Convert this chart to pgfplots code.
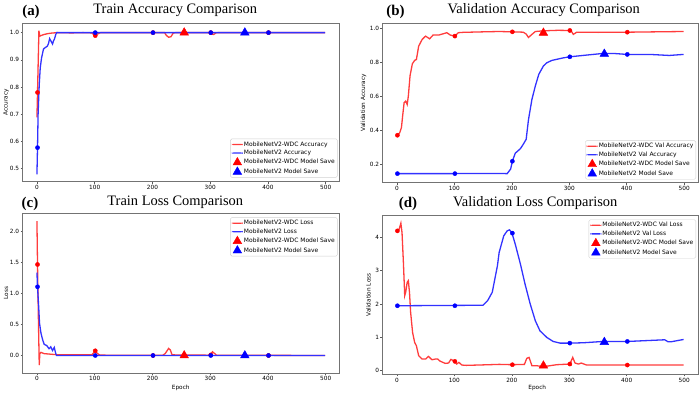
\documentclass[border=0pt]{standalone}
\usepackage{fontspec}
\setmainfont{Liberation Serif}
\newfontfamily\dv{DejaVu Sans}
\usepackage{pgfplots}
\pgfplotsset{compat=1.18}
\definecolor{wdcl}{RGB}{255,60,60}
\definecolor{netl}{RGB}{50,50,255}
\pgfplotsset{
  base/.style={scale only axis, anchor=south west,
    xmin=-25, xmax=524, xtick={0,100,200,300,400,500},
    axis line style={black!55,line width=0.6bp},
    tick style={black!65,line width=0.5bp},
    tick align=outside, major tick length=2bp,
    xtick pos=bottom, ytick pos=left,
    ticklabel style={font=\dv\fontsize{5.8}{7}\selectfont},
    xticklabel style={inner sep=1.5bp},
    yticklabel style={inner sep=1.2bp},
    /pgf/number format/assume math mode=true,
    label style={font=\dv\fontsize{5.8}{7}\selectfont},
    legend cell align=left,
    legend style={font=\dv\fontsize{6}{7}\selectfont, draw=black!18,
      rounded corners=1.5bp, fill=white,
      inner sep=1.5bp, row sep=0.3bp, nodes={inner sep=1.1bp}},
  },
  wdc/.style={color=wdcl, line width=1.3bp, no markers,
    legend image code/.code={\path[fill=wdcl, draw=none] (0bp,-0.65bp) rectangle (11bp,0.65bp);}},
  net/.style={color=netl, line width=1.3bp, no markers,
    legend image code/.code={\path[fill=netl, draw=none] (0bp,-0.65bp) rectangle (11bp,0.65bp);}},
  wdcm/.style={only marks, mark=*, mark size=2.1bp, color=red, forget plot},
  netm/.style={only marks, mark=*, mark size=2.1bp, color=blue, forget plot},
  wdcs/.style={only marks, mark=triangle*, mark size=5bp, color=red,
    legend image code/.code={\path[##1] plot coordinates {(5.5bp,0bp)};}},
  nets/.style={only marks, mark=triangle*, mark size=5bp, color=blue,
    legend image code/.code={\path[##1] plot coordinates {(5.5bp,0bp)};}},
}
\begin{document}
\begin{tikzpicture}[x=1bp,y=1bp]
\path (0,0) rectangle (700,389);
% ---------- (a) ----------
\begin{axis}[base, at={(21.5bp,210bp)}, width=317.5bp, height=159bp,
  ymin=0.452, ymax=1.036, ytick={0.5,0.6,0.7,0.8,0.9,1.0},
  yticklabel style={/pgf/number format/.cd, fixed, fixed zerofill, precision=1},
  ylabel={Accuracy}, ylabel style={at={(axis description cs:-0.052,0.5)}, anchor=center},
  legend style={at={(0.994,0.025)}, anchor=south east}]
\addplot[wdc] coordinates {(0,0.688) (1,0.78) (3.4,1.007) (5,0.987) (8,0.99) (12,0.993) (18,0.996) (24,0.998) (35,1.0) (60,0.999) (80,1.0) (95,0.999) (98,0.993) (101,0.989) (104,0.994) (110,1.0) (221,1.0) (224,0.99) (228,0.983) (232,0.985) (236,0.998) (240,1.0) (300,1.0) (303,0.995) (306,0.993) (310,0.999) (313,1.0) (499,1.0)};
\addlegendentry{MobileNetV2-WDC Accuracy}
\addplot[net] coordinates {(0,0.479) (1,0.577) (2,0.7) (4,0.81) (5.7,0.87) (8,0.907) (11.4,0.94) (15,0.946) (18,0.95) (20,0.96) (22,0.978) (25,0.966) (27,0.958) (29,0.972) (30,0.974) (32.6,0.993) (34,1.0) (499,1.0)};
\addlegendentry{MobileNetV2 Accuracy}
\addplot[wdcm] coordinates {(1,0.78) (101,0.989) (201,1.0) (301,1.0) (401,1.0)};
\addplot[netm] coordinates {(1,0.577) (101,1.0) (201,1.0) (301,1.0) (401,1.0)};
\addplot[wdcs] coordinates {(255,1.0)};
\addlegendentry{MobileNetV2-WDC Model Save}
\addplot[nets] coordinates {(360,1.0)};
\addlegendentry{MobileNetV2 Model Save}
\end{axis}
% ---------- (b) ----------
\begin{axis}[base, at={(382bp,209bp)}, width=316bp, height=160bp,
  ymin=0.09, ymax=1.031, ytick={0.2,0.4,0.6,0.8,1.0},
  yticklabel style={/pgf/number format/.cd, fixed, fixed zerofill, precision=1},
  ylabel={Validation Accuracy}, ylabel style={at={(axis description cs:-0.06,0.5)}, anchor=center},
  legend style={at={(0.994,0.02)}, anchor=south east}]
\addplot[wdc] coordinates {(0,0.369) (1,0.369) (5,0.384) (8,0.414) (10,0.48) (12.6,0.56) (15.4,0.57) (18,0.55) (20,0.6) (23,0.72) (27,0.79) (31,0.81) (34,0.815) (38,0.894) (44,0.933) (50,0.953) (57,0.937) (63,0.959) (73,0.959) (81,0.967) (87,0.973) (93,0.959) (101,0.953) (107,0.973) (115,0.975) (150,0.978) (178,0.98) (201,0.978) (220,0.976) (225,0.965) (229,0.945) (235,0.963) (241,0.98) (255,0.984) (280,0.987) (301,0.986) (304,0.98) (307,0.963) (313,0.976) (324,0.976) (350,0.975) (402,0.976) (450,0.978) (499,0.98)};
\addlegendentry{MobileNetV2-WDC Val Accuracy}
\addplot[net] coordinates {(0,0.143) (100,0.143) (150,0.144) (192,0.143) (198,0.17) (201,0.216) (206,0.263) (215,0.29) (220,0.316) (225,0.345) (229,0.46) (235,0.58) (241,0.66) (247,0.728) (255,0.777) (261,0.796) (270,0.81) (278,0.816) (290,0.825) (301,0.831) (324,0.839) (359,0.851) (380,0.85) (401,0.845) (440,0.845) (474,0.839) (499,0.845)};
\addlegendentry{MobileNetV2 Val Accuracy}
\addplot[wdcm] coordinates {(1,0.369) (101,0.953) (201,0.978) (301,0.986) (401,0.976)};
\addplot[netm] coordinates {(1,0.143) (101,0.143) (201,0.216) (301,0.831) (401,0.845)};
\addplot[wdcs] coordinates {(255,0.972)};
\addlegendentry{MobileNetV2-WDC Model Save}
\addplot[nets] coordinates {(361,0.848)};
\addlegendentry{MobileNetV2 Model Save}
\end{axis}
% ---------- (c) ----------
\begin{axis}[base, at={(21.5bp,18.5bp)}, width=317.5bp, height=160bp,
  ymin=-0.28, ymax=2.3, ytick={0,0.5,1.0,1.5,2.0},
  yticklabel style={/pgf/number format/.cd, fixed, fixed zerofill, precision=1},
  ylabel={Loss}, ylabel style={at={(axis description cs:-0.052,0.5)}, anchor=center},
  legend style={at={(0.994,0.973)}, anchor=north east}]
\addplot[wdc] coordinates {(0,2.17) (1,1.47) (2.5,0.6) (4,-0.157) (5,0.03) (7,0.05) (12.6,0.03) (30,0.016) (40,0.01) (95,0.01) (98,0.04) (101,0.076) (104,0.04) (108,0.01) (120,0.005) (218,0.005) (222,0.03) (228,0.114) (231,0.09) (234,0.01) (300,0.005) (304,0.06) (308,0.03) (311,0.005) (499,0.0)};
\addlegendentry{MobileNetV2-WDC Loss}
\addplot[net] coordinates {(0,1.34) (1,1.11) (3,0.79) (4.5,0.52) (7,0.36) (10,0.25) (12.6,0.18) (17,0.16) (21,0.11) (24,0.14) (27,0.08) (30,0.13) (32.6,0.03) (34,0.0) (499,0.0)};
\addlegendentry{MobileNetV2 Loss}
\addplot[wdcm] coordinates {(1,1.47) (101,0.076) (201,0.0) (301,0.01) (401,0.0)};
\addplot[netm] coordinates {(1,1.11) (101,0.0) (201,0.0) (301,0.0) (401,0.0)};
\addplot[wdcs] coordinates {(255,0.0)};
\addlegendentry{MobileNetV2-WDC Model Save}
\addplot[nets] coordinates {(360,0.0)};
\addlegendentry{MobileNetV2 Model Save}
\end{axis}
% ---------- (d) ----------
\begin{axis}[base, at={(382bp,17bp)}, width=316bp, height=159bp,
  ymin=-0.12, ymax=4.66, ytick={0,1,2,3,4},
  ylabel={Validation Loss}, ylabel style={at={(axis description cs:-0.044,0.5)}, anchor=center},
  legend style={at={(0.994,0.975)}, anchor=north east}]
\addplot[wdc] coordinates {(0,4.2) (1,4.2) (4,4.25) (7,4.43) (9,4.15) (11.4,3.25) (13.7,2.25) (15.4,2.35) (18,2.65) (20,2.7) (22,2.35) (24,1.74) (27.4,1.14) (31,0.84) (34,0.74) (38,0.44) (44,0.34) (50,0.34) (55,0.42) (61,0.32) (67,0.34) (71,0.34) (75,0.28) (84,0.21) (90,0.22) (94,0.33) (101,0.27) (104,0.19) (108,0.24) (113,0.16) (121,0.15) (161,0.17) (178,0.18) (201,0.17) (222,0.18) (226,0.36) (230,0.39) (235,0.14) (243,0.14) (255,0.11) (278,0.17) (301,0.19) (306,0.39) (310,0.22) (316,0.19) (321,0.22) (330,0.16) (401,0.16) (499,0.16)};
\addlegendentry{MobileNetV2-WDC Val Loss}
\addplot[net] coordinates {(0,1.945) (150,1.96) (158,2.1) (166,2.35) (175,3.15) (178,3.55) (186,4.05) (192,4.2) (196,4.23) (200,4.15) (206,3.8) (215,3.2) (223,2.6) (232,2.0) (241,1.49) (249,1.19) (261,0.99) (272,0.87) (284,0.82) (301,0.82) (324,0.83) (359,0.87) (402,0.87) (440,0.9) (466,0.92) (470,0.88) (472,0.86) (477,0.86) (499,0.93)};
\addlegendentry{MobileNetV2 Val Loss}
\addplot[wdcm] coordinates {(1,4.2) (101,0.27) (201,0.17) (301,0.19) (401,0.16)};
\addplot[netm] coordinates {(1,1.945) (101,1.945) (201,4.13) (301,0.82) (401,0.87)};
\addplot[wdcs] coordinates {(255,0.14)};
\addlegendentry{MobileNetV2-WDC Model Save}
\addplot[nets] coordinates {(361,0.85)};
\addlegendentry{MobileNetV2 Model Save}
\end{axis}
% ---------- axis x labels ----------
\node[font=\dv\fontsize{5.8}{7}\selectfont] at (180,3.6) {Epoch};
\node[font=\dv\fontsize{5.8}{7}\selectfont] at (537,3.6) {Epoch};
% ---------- titles ----------
\node[font=\fontsize{15}{17}\selectfont\bfseries] at (30,380) {(a)};
\node[font=\fontsize{14.5}{17}\selectfont] at (174.5,382) {Train Accuracy Comparison};
\node[font=\fontsize{15}{17}\selectfont\bfseries] at (395,380) {(b)};
\node[font=\fontsize{14.5}{17}\selectfont] at (543.5,382) {Validation Accuracy Comparison};
\node[font=\fontsize{15}{17}\selectfont\bfseries] at (29,187.5) {(c)};
\node[font=\fontsize{14.5}{17}\selectfont] at (174.5,189) {Train Loss Comparison};
\node[font=\fontsize{15}{17}\selectfont\bfseries] at (407.5,188) {(d)};
\node[font=\fontsize{14.5}{17}\selectfont] at (535,189) {Validation Loss Comparison};
\end{tikzpicture}
\end{document}
